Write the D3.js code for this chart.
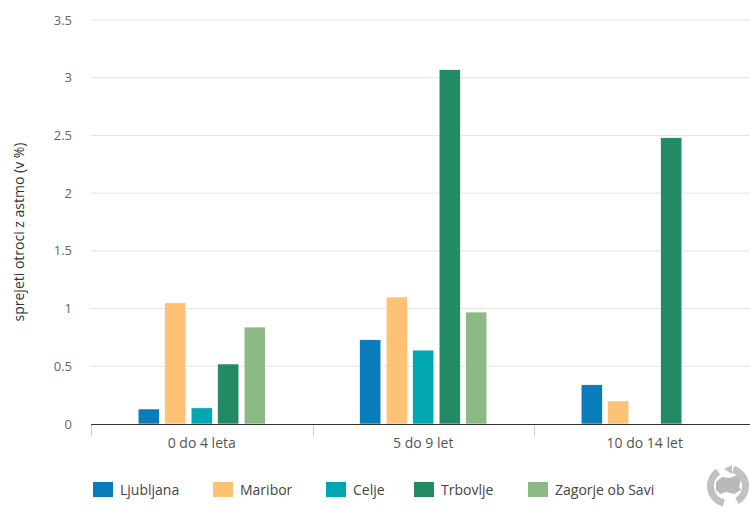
<!DOCTYPE html>
<html>
<head>
<meta charset="utf-8">
<script src="https://cdn.jsdelivr.net/npm/d3@7"></script>
<style>
  html, body { margin: 0; padding: 0; background: #fff; }
  svg { display: block; font-family: "Open Sans", "Noto Sans", sans-serif; }
</style>
</head>
<body>
<svg id="chart" width="750" height="508"></svg>
<script>
// Age groups on the x axis
const categories = ["0 do 4 leta", "5 do 9 let", "10 do 14 let"];

// Share of admitted children with asthma (in %), one array per town
const seriesNames = ["Ljubljana", "Maribor", "Celje", "Trbovlje", "Zagorje ob Savi"];
const ljubljana = [0.13, 0.73, 0.34];
const maribor   = [1.05, 1.10, 0.20];
const celje     = [0.14, 0.64, null];
const trbovlje  = [0.52, 3.07, 2.48];
const zagorje   = [0.84, 0.97, null];
const seriesColors = ["#0a7cba", "#fdc273", "#00a6b0", "#228b63", "#8cba84"];

const yTicks = [0, 0.5, 1, 1.5, 2, 2.5, 3, 3.5];
const yTickLabels = ["0", "0.5", "1", "1.5", "2", "2.5", "3", "3.5"];
const yTitle = "sprejeti otroci z astmo (v %)";

const seriesValues = [ljubljana, maribor, celje, trbovlje, zagorje];

const svg = d3.select("#chart");
const plot = { left: 91, right: 755.5, top: 20, bottom: 424 };

const x = d3.scaleBand().domain(categories).range([plot.left, plot.right]).padding(0);
const y = d3.scaleLinear().domain([0, 3.5]).range([plot.bottom, plot.top]);

// Horizontal grid lines
svg.append("g")
  .selectAll("line")
  .data(yTicks.filter(t => t > 0))
  .join("line")
  .attr("x1", plot.left).attr("x2", 750)
  .attr("y1", d => y(d)).attr("y2", d => y(d))
  .attr("stroke", "#e3e3e3").attr("stroke-width", 1);

// Y tick labels
svg.append("g")
  .selectAll("text")
  .data(yTicks)
  .join("text")
  .attr("x", 72)
  .attr("y", d => y(d))
  .attr("dy", "0.35em")
  .attr("text-anchor", "end")
  .attr("font-size", 13)
  .attr("fill", "#666")
  .text((d, i) => yTickLabels[i]);

// Y axis title
svg.append("text")
  .attr("transform", `translate(24, ${(plot.top + plot.bottom) / 2 + 10}) rotate(-90)`)
  .attr("text-anchor", "middle")
  .attr("font-size", 14)
  .attr("fill", "#333")
  .text(yTitle);

// Bars: one inner band per town inside each age group
const inner = d3.scaleBand().domain(seriesNames)
  .paddingInner(0.2).paddingOuter(0.1);

const groups = svg.append("g")
  .selectAll("g")
  .data(categories)
  .join("g");

groups.each(function (cat, ci) {
  const c = x(cat) + x.bandwidth() / 2;
  const step = 26.5;
  inner.range([c - 2.5 * step, c + 2.5 * step]);
  const rows = seriesNames
    .map((name, si) => ({ name, v: seriesValues[si][ci], color: seriesColors[si] }))
    .filter(d => d.v != null);
  d3.select(this).selectAll("rect")
    .data(rows)
    .join("rect")
    .attr("x", d => inner(d.name))
    .attr("width", inner.bandwidth())
    .attr("y", d => y(d.v))
    .attr("height", d => y(0) - y(d.v))
    .attr("fill", d => d.color)
    .attr("stroke", "#ffffff")
    .attr("stroke-width", 0.6);
});

// X axis line and category separators
const xAxis = svg.append("g");
xAxis.append("line")
  .attr("x1", plot.left).attr("x2", 750)
  .attr("y1", plot.bottom + 0.5).attr("y2", plot.bottom + 0.5)
  .attr("stroke", "#333").attr("stroke-width", 1);
xAxis.selectAll("line.sep")
  .data(categories)
  .join("line")
  .attr("class", "sep")
  .attr("x1", d => Math.round(x(d)) + 0.5).attr("x2", d => Math.round(x(d)) + 0.5)
  .attr("y1", plot.bottom + 1).attr("y2", plot.bottom + 12)
  .attr("stroke", "#ccc").attr("stroke-width", 1);
xAxis.selectAll("text")
  .data(categories)
  .join("text")
  .attr("x", d => x(d) + x.bandwidth() / 2)
  .attr("y", 448)
  .attr("text-anchor", "middle")
  .attr("font-size", 14)
  .attr("fill", "#555")
  .text(d => d);

// Legend
const legendX = [93, 213, 326, 414, 528];
const legend = svg.append("g")
  .selectAll("g")
  .data(seriesNames)
  .join("g")
  .attr("transform", (d, i) => `translate(${legendX[i]}, 482)`);
legend.append("rect")
  .attr("width", 20).attr("height", 15)
  .attr("fill", (d, i) => seriesColors[i]);
legend.append("text")
  .attr("x", 27).attr("y", 12.5)
  .attr("font-size", 14)
  .attr("fill", "#444")
  .text(d => d);

// Small grey emblem in the corner: circular arrows around a country shape
const logo = svg.append("g")
  .attr("transform", "translate(728, 486)")
  .attr("opacity", 0.45);
const arc = d3.arc();
logo.append("path")
  .attr("d", arc({ innerRadius: 14, outerRadius: 21, startAngle: -2.9, endAngle: -0.6 }))
  .attr("fill", "#777");
logo.append("path")
  .attr("d", arc({ innerRadius: 14, outerRadius: 21, startAngle: 0.3, endAngle: 2.6 }))
  .attr("fill", "#777");
logo.append("path")
  .attr("d", "M-4,-17 L4,-21 L4,-12 Z")
  .attr("fill", "#777");
logo.append("path")
  .attr("d", "M-12,-4 L-6,-9 L2,-8 L9,-11 L13,-6 L11,0 L13,4 L6,8 L-2,6 L-8,8 L-12,4 Z")
  .attr("fill", "#666");
</script>
</body>
</html>
